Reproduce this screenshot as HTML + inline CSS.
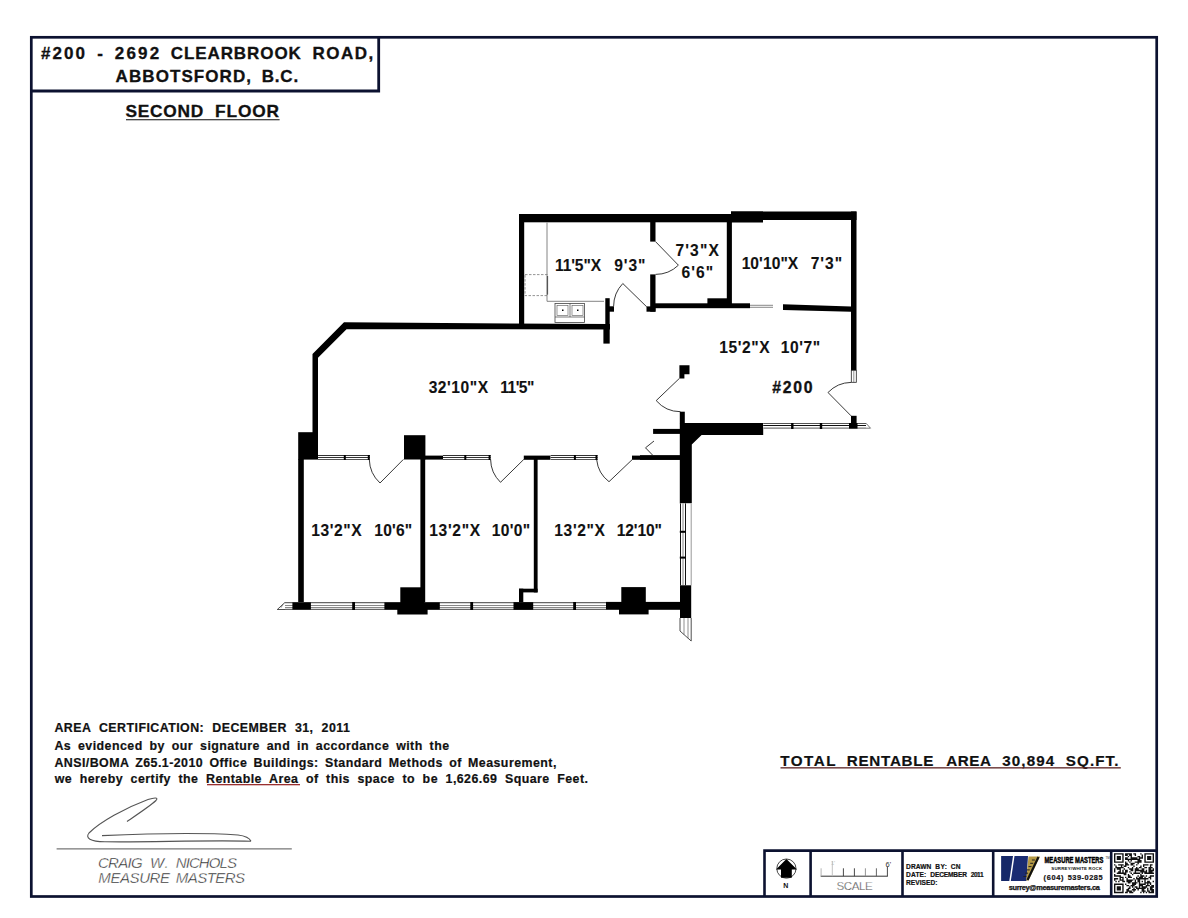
<!DOCTYPE html>
<html><head><meta charset="utf-8">
<style>
html,body{margin:0;padding:0;background:#fff;}
body{width:1188px;height:918px;overflow:hidden;position:relative;}
svg{position:absolute;left:0;top:0;}
text{font-family:"Liberation Sans",sans-serif;}
</style></head>
<body>
<svg width="1188" height="918" viewBox="0 0 1188 918">
<rect x="31.3" y="37.3" width="1125.4" height="859.2" fill="none" stroke="#0c1230" stroke-width="2.7"/>
<path d="M378.7 37 V91 H31" fill="none" stroke="#0c1230" stroke-width="2.8"/>
<text transform="translate(41.40 58.90) scale(1.05 1)" x="-0.28" y="0" font-size="16.2" font-weight="bold" font-style="normal" fill="#111" stroke="#111" stroke-width="0.3" letter-spacing="1.89" >#200</text>
<text transform="translate(97.90 58.90) scale(1.05 1)" x="-0.63" y="0" font-size="16.2" font-weight="bold" font-style="normal" fill="#111" stroke="#111" stroke-width="0.3" letter-spacing="0.00" >-</text>
<text transform="translate(115.30 58.90) scale(1.05 1)" x="-0.56" y="0" font-size="16.2" font-weight="bold" font-style="normal" fill="#111" stroke="#111" stroke-width="0.3" letter-spacing="2.10" >2692</text>
<text transform="translate(171.40 58.90) scale(1.05 1)" x="-0.66" y="0" font-size="16.2" font-weight="bold" font-style="normal" fill="#111" stroke="#111" stroke-width="0.3" letter-spacing="0.88" >CLEARBROOK</text>
<text transform="translate(313.60 58.90) scale(1.05 1)" x="-1.08" y="0" font-size="16.2" font-weight="bold" font-style="normal" fill="#111" stroke="#111" stroke-width="0.3" letter-spacing="1.40" >ROAD,</text>
<text transform="translate(116.00 81.70) scale(1.05 1)" x="-0.40" y="0" font-size="16.2" font-weight="bold" font-style="normal" fill="#111" stroke="#111" stroke-width="0.3" letter-spacing="1.03" >ABBOTSFORD,</text>
<text transform="translate(262.90 81.70) scale(1.05 1)" x="-1.08" y="0" font-size="16.2" font-weight="bold" font-style="normal" fill="#111" stroke="#111" stroke-width="0.3" letter-spacing="0.76" >B.C.</text>
<text transform="translate(126.00 117.20) scale(1.05 1)" x="-0.48" y="0" font-size="16.5" font-weight="bold" font-style="normal" fill="#111" stroke="#111" stroke-width="0.3" letter-spacing="0.72" >SECOND</text>
<text transform="translate(216.20 117.20) scale(1.05 1)" x="-1.10" y="0" font-size="16.5" font-weight="bold" font-style="normal" fill="#111" stroke="#111" stroke-width="0.3" letter-spacing="0.83" >FLOOR</text>
<rect x="126" y="119.1" width="153.6" height="1.2" fill="#333"/>
<text x="54.39" y="732.20" font-size="12.4" font-weight="bold" fill="#111" stroke="#111" stroke-width="0.2" letter-spacing="0.45" word-spacing="4.24">AREA CERTIFICATION: DECEMBER 31, 2011</text>
<text x="54.39" y="750.20" font-size="12.4" font-weight="bold" fill="#111" stroke="#111" stroke-width="0.2" letter-spacing="0.45" word-spacing="3.01">As evidenced by our signature and in accordance with the</text>
<text x="54.39" y="766.80" font-size="12.4" font-weight="bold" fill="#111" stroke="#111" stroke-width="0.2" letter-spacing="0.45" word-spacing="2.46">ANSI/BOMA Z65.1-2010 Office Buildings: Standard Methods of Measurement,</text>
<text x="54.74" y="783.20" font-size="12.4" font-weight="bold" fill="#111" stroke="#111" stroke-width="0.2" letter-spacing="0.45" word-spacing="3.67">we hereby certify the Rentable Area of this space to be 1,626.69 Square Feet.</text>
<rect x="207" y="784" width="93" height="1.3" fill="#9a3030"/>
<text transform="translate(780.30 765.60) scale(1.0 1)" x="-0.17" y="0" font-size="15.2" font-weight="bold" font-style="normal" fill="#111" stroke="#111" stroke-width="0.2" letter-spacing="1.52" >TOTAL</text>
<text transform="translate(847.70 765.60) scale(1.0 1)" x="-1.02" y="0" font-size="15.2" font-weight="bold" font-style="normal" fill="#111" stroke="#111" stroke-width="0.2" letter-spacing="0.75" >RENTABLE</text>
<text transform="translate(946.50 765.60) scale(1.0 1)" x="-0.38" y="0" font-size="15.2" font-weight="bold" font-style="normal" fill="#111" stroke="#111" stroke-width="0.2" letter-spacing="0.57" >AREA</text>
<text transform="translate(1002.60 765.60) scale(1.0 1)" x="-0.35" y="0" font-size="15.2" font-weight="bold" font-style="normal" fill="#111" stroke="#111" stroke-width="0.2" letter-spacing="1.09" >30,894</text>
<text transform="translate(1066.20 765.60) scale(1.0 1)" x="-0.44" y="0" font-size="15.2" font-weight="bold" font-style="normal" fill="#111" stroke="#111" stroke-width="0.2" letter-spacing="1.10" >SQ.FT.</text>
<rect x="780.5" y="767.2" width="340.3" height="1.3" fill="#5a2222"/>
<path d="M127,821.5 C138,814 150,806 156,800.5 C159,797 154,797.5 148,799.5 C125,808 100,822 89,833 C85,838 90,841.5 105,841.8 C150,842.5 200,840 251,841.2 M102,835.6 C140,834 200,832.5 238,835 C246,836 250,839 251,841.2" fill="none" stroke="#555" stroke-width="1.1"/>
<rect x="56.6" y="848.4" width="235.2" height="1" fill="#555"/>
<text transform="translate(98.80 868.20) scale(1.0 1)" x="-0.83" y="0" font-size="15" font-weight="normal" font-style="italic" fill="#222" letter-spacing="-0.73" stroke="#fff" stroke-width="0.4">CRAIG</text>
<text transform="translate(151.30 868.20) scale(1.0 1)" x="-1.30" y="0" font-size="15" font-weight="normal" font-style="italic" fill="#222" letter-spacing="0.91" stroke="#fff" stroke-width="0.4">W.</text>
<text transform="translate(176.20 868.20) scale(1.0 1)" x="-0.46" y="0" font-size="15" font-weight="normal" font-style="italic" fill="#222" letter-spacing="-0.91" stroke="#fff" stroke-width="0.4">NICHOLS</text>
<text transform="translate(98.80 883.00) scale(1.0 1)" x="-0.46" y="0" font-size="15" font-weight="normal" font-style="italic" fill="#222" letter-spacing="-0.43" stroke="#fff" stroke-width="0.4">MEASURE</text>
<text transform="translate(176.20 883.00) scale(1.0 1)" x="-0.46" y="0" font-size="15" font-weight="normal" font-style="italic" fill="#222" letter-spacing="-0.53" stroke="#fff" stroke-width="0.4">MASTERS</text>
<g fill="none" stroke="#0c1230" stroke-width="2.6"><path d="M1156.7 850.6 H764.5 V896.5"/><path d="M810.6 850.6 V896.5 M902.5 850.6 V896.5 M993.2 850.6 V896.5 M1111.2 850.6 V896.5"/></g>
<rect x="519" y="214" width="213.00" height="8.30" fill="#000"/>
<rect x="731" y="211.5" width="125.50" height="8.50" fill="#000"/>
<rect x="731" y="211.5" width="32.00" height="11.00" fill="#000"/>
<rect x="519" y="214" width="5.20" height="115.00" fill="#000"/>
<polygon points="344,322.3 610,324.1 610,329.4 346.5,329.3 318,357.8 318,456 312.5,456 312.5,354" fill="#000"/>
<rect x="605.3" y="298.2" width="4.40" height="26.80" fill="#000"/>
<rect x="603.4" y="324" width="6.30" height="19.60" fill="#000"/>
<rect x="609" y="306.3" width="5.00" height="5.40" fill="#000"/>
<rect x="650.2" y="222" width="5.30" height="19.60" fill="#000"/>
<rect x="650.2" y="274.4" width="5.30" height="37.30" fill="#000"/>
<rect x="646.5" y="306.4" width="9.00" height="5.30" fill="#000"/>
<rect x="655" y="303.3" width="95.00" height="4.90" fill="#000"/>
<rect x="707.4" y="298.3" width="22.80" height="5.70" fill="#000"/>
<rect x="726.8" y="214" width="5.10" height="90.00" fill="#000"/>
<path d="M750,305.3 H773 M750,307.3 H773" fill="none" stroke="#555" stroke-width="0.7"/>
<polygon points="783,304.3 851,306.6 851,311.8 783,309.9" fill="#000"/>
<rect x="851" y="211.5" width="5.50" height="158.80" fill="#000"/>
<rect x="851.3" y="370.3" width="5" height="12" fill="#fff" stroke="#222" stroke-width="0.8"/>
<path d="M853.8,370.3 V382.4" fill="none" stroke="#444" stroke-width="0.6"/>
<path d="M851,415.8 L828,392.5 A32.74,32.74 0 0 1 851,382.4" fill="none" stroke="#222" stroke-width="0.9"/>
<path d="M547,222.5 V301.3 H604" fill="none" stroke="#777" stroke-width="0.9"/>
<rect x="525" y="274.6" width="22.5" height="21" fill="none" stroke="#777" stroke-width="0.8" stroke-dasharray="2.5 1.5"/>
<path d="M547.5,276 V294.5" fill="none" stroke="#555" stroke-width="1.2"/>
<rect x="555" y="303.5" width="29.4" height="19" fill="none" stroke="#444" stroke-width="0.8"/>
<path d="M570,303.5 V317 M555,317 H584.4" fill="none" stroke="#444" stroke-width="0.7"/>
<rect x="557" y="305.5" width="11" height="10" fill="none" stroke="#555" stroke-width="0.6"/>
<rect x="572" y="305.5" width="11" height="10" fill="none" stroke="#555" stroke-width="0.6"/>
<rect x="562" y="309.5" width="1.50" height="1.50" fill="#000"/>
<rect x="577" y="309.5" width="1.50" height="1.50" fill="#000"/>
<path d="M655.5,241.6 L678.4,265.2 A32.88,32.88 0 0 1 655.5,274.4" fill="none" stroke="#222" stroke-width="0.9"/>
<path d="M646.7,306.8 L622.8,283.5 A33.38,33.38 0 0 0 613.6,306.4" fill="none" stroke="#222" stroke-width="0.9"/>
<polygon points="679.4,365.3 689.5,365.3 689.5,374.3 684.4,374.3 684.4,378.4 679.4,378.4" fill="#000"/>
<path d="M679.4,378.4 L656.2,400.6 A32.11,32.11 0 0 0 680.4,411.7" fill="none" stroke="#222" stroke-width="0.9"/>
<rect x="679.8" y="411.7" width="5.00" height="11.50" fill="#000"/>
<polygon points="679.8,423 763.2,423 763.2,435 701.6,435 691.8,444.5 691.8,503.4 679.8,503.4" fill="#000"/>
<rect x="653.1" y="428.9" width="26.90" height="5.00" fill="#000"/>
<path d="M654,441 L645.5,447.8 L652.5,455" fill="none" stroke="#222" stroke-width="0.9"/>
<rect x="640" y="455.2" width="40.00" height="4.60" fill="#000"/>
<rect x="763.2" y="423" width="102.80" height="6.00" fill="#fff"/>
<path d="M763.2,423.50H866" stroke="#555" stroke-width="1" fill="none"/>
<path d="M763.2,425.50H866" stroke="#111" stroke-width="1" fill="none"/>
<path d="M763.2,428.20H866" stroke="#777" stroke-width="1.2" fill="none"/>
<rect x="791.0999999999999" y="423" width="2.40" height="6.00" fill="#000"/>
<rect x="819.8" y="423" width="2.40" height="6.00" fill="#000"/>
<path d="M866,423.2 L870.5,428.2 H866" fill="none" stroke="#555" stroke-width="0.8"/>
<rect x="851" y="415.8" width="5.60" height="7.70" fill="#000"/>
<rect x="849" y="423" width="8.50" height="5.60" fill="#000"/>
<rect x="298.2" y="432.2" width="19.80" height="27.40" fill="#000"/>
<rect x="318" y="455" width="51.80" height="5.00" fill="#fff"/>
<path d="M318,455.50H369.8" stroke="#333" stroke-width="1" fill="none"/>
<path d="M318,457.50H369.8" stroke="#333" stroke-width="1" fill="none"/>
<path d="M318,459.50H369.8" stroke="#555" stroke-width="1" fill="none"/>
<rect x="343.8" y="455" width="2.00" height="5.00" fill="#000"/>
<rect x="367.8" y="455" width="2.00" height="5.00" fill="#000"/>
<path d="M403.4,459.4 L380,483 A33.23,33.23 0 0 1 369.3,459.4" fill="none" stroke="#222" stroke-width="0.9"/>
<rect x="404" y="435.2" width="21.40" height="24.30" fill="#000"/>
<rect x="425" y="455.6" width="18.00" height="4.00" fill="#000"/>
<rect x="443" y="455" width="47.60" height="5.00" fill="#fff"/>
<path d="M443,455.50H490.6" stroke="#333" stroke-width="1" fill="none"/>
<path d="M443,457.50H490.6" stroke="#333" stroke-width="1" fill="none"/>
<path d="M443,459.50H490.6" stroke="#555" stroke-width="1" fill="none"/>
<rect x="464.3" y="455" width="2.00" height="5.00" fill="#000"/>
<rect x="488.6" y="455" width="2.00" height="5.00" fill="#000"/>
<path d="M523.8,459.4 L500.5,482.3 A32.67,32.67 0 0 1 490.6,459.4" fill="none" stroke="#222" stroke-width="0.9"/>
<rect x="523.8" y="455.6" width="26.80" height="4.20" fill="#000"/>
<rect x="550.6" y="455" width="46.90" height="5.00" fill="#fff"/>
<path d="M550.6,455.50H597.5" stroke="#333" stroke-width="1" fill="none"/>
<path d="M550.6,457.50H597.5" stroke="#333" stroke-width="1" fill="none"/>
<path d="M550.6,459.50H597.5" stroke="#555" stroke-width="1" fill="none"/>
<rect x="573.9" y="455" width="2.00" height="5.00" fill="#000"/>
<rect x="595.5" y="455" width="2.00" height="5.00" fill="#000"/>
<path d="M632,459.8 L609,481.7 A31.76,31.76 0 0 1 596.7,459.8" fill="none" stroke="#222" stroke-width="0.9"/>
<rect x="632" y="455.6" width="48.00" height="4.20" fill="#000"/>
<rect x="298.2" y="459" width="5.60" height="145.50" fill="#000"/>
<rect x="420.4" y="459" width="4.80" height="145.50" fill="#000"/>
<rect x="533.8" y="459" width="3.80" height="133.40" fill="#000"/>
<rect x="519" y="588.7" width="18.60" height="3.70" fill="#000"/>
<rect x="519" y="588.7" width="4.30" height="15.30" fill="#000"/>
<rect x="679.8" y="503.4" width="12.20" height="81.90" fill="#fff"/>
<path d="M680.50,503.4V585.3" stroke="#111" stroke-width="1" fill="none"/>
<path d="M683.00,503.4V585.3" stroke="#777" stroke-width="0.9" fill="none"/>
<path d="M685.50,503.4V585.3" stroke="#111" stroke-width="1" fill="none"/>
<path d="M691.20,503.4V585.3" stroke="#999" stroke-width="1.0" fill="none"/>
<rect x="679.8" y="530.8" width="6.00" height="2.00" fill="#000"/>
<rect x="679.8" y="556.6" width="6.00" height="2.00" fill="#000"/>
<rect x="680" y="585.3" width="11.20" height="32.80" fill="#000"/>
<polygon points="680,618 691.2,618 691.2,641 680,631" fill="#fff"/>
<path d="M680,618 V631 L691.2,641 V618" fill="none" stroke="#222" stroke-width="0.8"/>
<path d="M684,618 V634.6 M688,618 V638.2" fill="none" stroke="#444" stroke-width="0.6"/>
<rect x="285" y="602" width="321.00" height="8.00" fill="#fff"/>
<path d="M285,602.60H606" stroke="#666" stroke-width="1.1" fill="none"/>
<path d="M285,605.50H606" stroke="#888" stroke-width="1" fill="none"/>
<path d="M285,607.50H606" stroke="#888" stroke-width="1" fill="none"/>
<path d="M285,609.40H606" stroke="#666" stroke-width="1.1" fill="none"/>
<rect x="352.20000000000005" y="602" width="2.80" height="8.00" fill="#000"/>
<rect x="470.3" y="602" width="2.80" height="8.00" fill="#000"/>
<rect x="573.2" y="602" width="2.80" height="8.00" fill="#000"/>
<path d="M285,602.4 L277.3,609.5 H285" fill="none" stroke="#222" stroke-width="0.8"/>
<path d="M283,604.2 L281,607.7" fill="none" stroke="#444" stroke-width="0.6"/>
<rect x="292.4" y="602.4" width="18.50" height="7.20" fill="#000"/>
<rect x="384.4" y="602.4" width="55.40" height="7.20" fill="#000"/>
<rect x="400.3" y="587.3" width="24.20" height="22.70" fill="#000"/>
<rect x="397.3" y="609" width="30.30" height="5.50" fill="#000"/>
<rect x="513.5" y="602.2" width="19.70" height="7.60" fill="#000"/>
<rect x="606" y="601.9" width="74.00" height="7.90" fill="#000"/>
<rect x="621.3" y="587.1" width="24.50" height="22.90" fill="#000"/>
<rect x="619" y="609" width="29.60" height="5.40" fill="#000"/>
<text transform="translate(555.90 271.30) scale(1.0 1)" x="-0.98" y="0" font-size="15.6" font-weight="bold" font-style="normal" fill="#111" stroke="#111" stroke-width="0.1" letter-spacing="-0.10" >11'5"X</text>
<text transform="translate(614.80 271.30) scale(1.0 1)" x="-0.54" y="0" font-size="15.6" font-weight="bold" font-style="normal" fill="#111" stroke="#111" stroke-width="0.1" letter-spacing="0.87" >9'3"</text>
<text transform="translate(676.10 255.60) scale(1.0 1)" x="-0.67" y="0" font-size="15.6" font-weight="bold" font-style="normal" fill="#111" stroke="#111" stroke-width="0.1" letter-spacing="1.14" >7'3"X</text>
<text transform="translate(682.10 277.50) scale(1.0 1)" x="-0.57" y="0" font-size="15.6" font-weight="bold" font-style="normal" fill="#111" stroke="#111" stroke-width="0.1" letter-spacing="1.08" >6'6"</text>
<text transform="translate(742.60 269.20) scale(1.0 1)" x="-0.98" y="0" font-size="15.6" font-weight="bold" font-style="normal" fill="#111" stroke="#111" stroke-width="0.1" letter-spacing="0.07" >10'10"X</text>
<text transform="translate(811.30 269.20) scale(1.0 1)" x="-0.67" y="0" font-size="15.6" font-weight="bold" font-style="normal" fill="#111" stroke="#111" stroke-width="0.1" letter-spacing="0.98" >7'3"</text>
<text transform="translate(429.00 393.10) scale(1.0 1)" x="-0.36" y="0" font-size="15.6" font-weight="bold" font-style="normal" fill="#111" stroke="#111" stroke-width="0.1" letter-spacing="0.56" >32'10"X</text>
<text transform="translate(501.30 393.10) scale(1.0 1)" x="-0.98" y="0" font-size="15.6" font-weight="bold" font-style="normal" fill="#111" stroke="#111" stroke-width="0.1" letter-spacing="-0.58" >11'5"</text>
<text transform="translate(720.10 352.70) scale(1.0 1)" x="-0.98" y="0" font-size="15.6" font-weight="bold" font-style="normal" fill="#111" stroke="#111" stroke-width="0.1" letter-spacing="0.62" >15'2"X</text>
<text transform="translate(781.70 352.70) scale(1.0 1)" x="-0.98" y="0" font-size="15.6" font-weight="bold" font-style="normal" fill="#111" stroke="#111" stroke-width="0.1" letter-spacing="0.57" >10'7"</text>
<text transform="translate(772.60 393.10) scale(1.0 1)" x="-0.27" y="0" font-size="15.8" font-weight="bold" font-style="normal" fill="#111" stroke="#111" stroke-width="0.35" letter-spacing="1.72" >#200</text>
<text transform="translate(312.10 536.00) scale(1.0 1)" x="-0.98" y="0" font-size="15.6" font-weight="bold" font-style="normal" fill="#111" stroke="#111" stroke-width="0.1" letter-spacing="0.62" >13'2"X</text>
<text transform="translate(375.30 536.00) scale(1.0 1)" x="-0.98" y="0" font-size="15.6" font-weight="bold" font-style="normal" fill="#111" stroke="#111" stroke-width="0.1" letter-spacing="0.17" >10'6"</text>
<text transform="translate(430.10 536.00) scale(1.0 1)" x="-0.98" y="0" font-size="15.6" font-weight="bold" font-style="normal" fill="#111" stroke="#111" stroke-width="0.1" letter-spacing="0.72" >13'2"X</text>
<text transform="translate(492.70 536.00) scale(1.0 1)" x="-0.98" y="0" font-size="15.6" font-weight="bold" font-style="normal" fill="#111" stroke="#111" stroke-width="0.1" letter-spacing="0.32" >10'0"</text>
<text transform="translate(555.30 536.00) scale(1.0 1)" x="-0.98" y="0" font-size="15.6" font-weight="bold" font-style="normal" fill="#111" stroke="#111" stroke-width="0.1" letter-spacing="0.62" >13'2"X</text>
<text transform="translate(617.80 536.00) scale(1.0 1)" x="-0.98" y="0" font-size="15.6" font-weight="bold" font-style="normal" fill="#111" stroke="#111" stroke-width="0.1" letter-spacing="-0.16" >12'10"</text>
<circle cx="786.4" cy="868.6" r="9.6" fill="none" stroke="#333" stroke-width="0.9"/>
<polygon points="786.4,859 797,869.6 791.8,869.6 791.8,877.8 781,877.8 781,869.6 776,869.6" fill="#000"/>
<text x="785.7" y="887.9" font-family="Liberation Serif" font-weight="bold" font-size="7" text-anchor="middle" fill="#111">N</text>
<path d="M820.7,876.2 H887.8" stroke="#333" stroke-width="1"/>
<path d="M821.1,868.3 V876.2" stroke="#aaa" stroke-width="0.9"/>
<path d="M832.3,861 V876.2" stroke="#bbb" stroke-width="0.9"/>
<path d="M843.4,868.3 V876.2" stroke="#333" stroke-width="0.9"/>
<path d="M854.4,868.3 V876.2" stroke="#333" stroke-width="0.9"/>
<path d="M865.4,868.3 V876.2" stroke="#888" stroke-width="0.9"/>
<path d="M876.4,868.3 V876.2" stroke="#555" stroke-width="0.9"/>
<path d="M887.4,867 V876.2" stroke="#333" stroke-width="0.9"/>
<text x="831" y="864.6" font-size="5.5" fill="#bbb">1'</text>
<text x="885.6" y="866.5" font-size="7.5" fill="#333">6'</text>
<text transform="translate(837.00 889.90) scale(1.0 1)" x="-0.53" y="0" font-size="11.6" font-weight="normal" font-style="normal" fill="#555" letter-spacing="-0.45" stroke="#fff" stroke-width="0.25">SCALE</text>
<text transform="translate(906.50 869.00) scale(1.0 1)" x="-0.44" y="0" font-size="6.6" font-weight="bold" font-style="normal" fill="#111" stroke="#111" stroke-width="0.2" letter-spacing="0.07" >DRAWN</text>
<text transform="translate(935.70 869.00) scale(1.0 1)" x="-0.44" y="0" font-size="6.6" font-weight="bold" font-style="normal" fill="#111" stroke="#111" stroke-width="0.2" letter-spacing="0.36" >BY:</text>
<text transform="translate(951.10 869.00) scale(1.0 1)" x="-0.27" y="0" font-size="6.6" font-weight="bold" font-style="normal" fill="#111" stroke="#111" stroke-width="0.2" letter-spacing="0.08" >CN</text>
<text transform="translate(906.50 877.00) scale(1.0 1)" x="-0.44" y="0" font-size="6.6" font-weight="bold" font-style="normal" fill="#111" stroke="#111" stroke-width="0.2" letter-spacing="0.15" >DATE:</text>
<text transform="translate(930.80 877.00) scale(1.0 1)" x="-0.44" y="0" font-size="6.6" font-weight="bold" font-style="normal" fill="#111" stroke="#111" stroke-width="0.2" letter-spacing="-0.17" >DECEMBER</text>
<text transform="translate(970.90 877.00) scale(1.0 1)" x="-0.23" y="0" font-size="6.6" font-weight="bold" font-style="normal" fill="#111" stroke="#111" stroke-width="0.2" letter-spacing="-0.46" >2011</text>
<text transform="translate(906.50 884.90) scale(1.0 1)" x="-0.44" y="0" font-size="6.6" font-weight="bold" font-style="normal" fill="#111" stroke="#111" stroke-width="0.2" letter-spacing="0.03" >REVISED:</text>
<polygon points="1001.1,856.1 1013,856.1 1009.3,880.9 1001.1,880.9" fill="#162868"/>
<polygon points="1014.5,856.1 1028,856.1 1026.5,880.9 1010.8,880.9" fill="#1a2c72"/>
<polygon points="1028.5,856.4 1040,856.4 1028.5,880.5 1026.2,880.5" fill="#b59a45"/>
<path d="M1038.5,857 L1027.5,880" stroke="#111" stroke-width="2.2"/>
<path d="M1034.9,860.0 h-3" stroke="#222" stroke-width="1"/>
<path d="M1033.2,863.3 h-3" stroke="#222" stroke-width="1"/>
<path d="M1031.5,866.6 h-3" stroke="#222" stroke-width="1"/>
<path d="M1029.8,869.9 h-3" stroke="#222" stroke-width="1"/>
<path d="M1028.1,873.2 h-3" stroke="#222" stroke-width="1"/>
<path d="M1026.4,876.5 h-3" stroke="#222" stroke-width="1"/>
<text transform="translate(1044.5 862.7) scale(0.78 1)" x="0" y="0" font-family="Liberation Serif" font-weight="bold" font-size="9.6" fill="#000" stroke="#000" stroke-width="0.5" textLength="75.5" lengthAdjust="spacingAndGlyphs">MEASURE MASTERS</text>
<text x="1105.5" y="858.5" font-size="3" fill="#333">TM</text>
<text x="1051.37" y="869.70" font-size="4.4" font-weight="bold" font-style="normal" fill="#111" letter-spacing="0.18" >SURREY/WHITE ROCK</text>
<text transform="translate(1043.90 880.30) scale(1.0 1)" x="-0.37" y="0" font-size="7.4" font-weight="bold" font-style="normal" fill="#111" stroke="#111" stroke-width="0.2" letter-spacing="0.64" >(604)</text>
<text transform="translate(1067.90 879.60) scale(1.0 1)" x="-0.23" y="0" font-size="7.4" font-weight="bold" font-style="normal" fill="#111" stroke="#111" stroke-width="0.2" letter-spacing="0.52" >539-0285</text>
<text transform="translate(1009.00 889.60) scale(1.0 1)" x="-0.26" y="0" font-size="7.4" font-weight="bold" font-style="normal" fill="#111" stroke="#111" stroke-width="0.25" letter-spacing="-0.34" >surrey@measuremasters.ca</text>
<path d="M1114.00,853.20h9.66v1.38h-9.66zM1125.03,853.20h6.90v1.38h-6.90zM1133.31,853.20h2.76v1.38h-2.76zM1140.21,853.20h1.38v1.38h-1.38zM1144.34,853.20h9.66v1.38h-9.66zM1114.00,854.58h1.38v1.38h-1.38zM1122.28,854.58h1.38v1.38h-1.38zM1125.03,854.58h2.76v1.38h-2.76zM1129.17,854.58h2.76v1.38h-2.76zM1134.69,854.58h1.38v1.38h-1.38zM1141.59,854.58h1.38v1.38h-1.38zM1144.34,854.58h1.38v1.38h-1.38zM1152.62,854.58h1.38v1.38h-1.38zM1114.00,855.96h1.38v1.38h-1.38zM1116.76,855.96h4.14v1.38h-4.14zM1122.28,855.96h1.38v1.38h-1.38zM1127.79,855.96h1.38v1.38h-1.38zM1130.55,855.96h1.38v1.38h-1.38zM1137.45,855.96h2.76v1.38h-2.76zM1141.59,855.96h1.38v1.38h-1.38zM1144.34,855.96h1.38v1.38h-1.38zM1147.10,855.96h4.14v1.38h-4.14zM1152.62,855.96h1.38v1.38h-1.38zM1114.00,857.34h1.38v1.38h-1.38zM1116.76,857.34h4.14v1.38h-4.14zM1122.28,857.34h1.38v1.38h-1.38zM1125.03,857.34h2.76v1.38h-2.76zM1130.55,857.34h6.90v1.38h-6.90zM1138.83,857.34h4.14v1.38h-4.14zM1144.34,857.34h1.38v1.38h-1.38zM1147.10,857.34h4.14v1.38h-4.14zM1152.62,857.34h1.38v1.38h-1.38zM1114.00,858.72h1.38v1.38h-1.38zM1116.76,858.72h4.14v1.38h-4.14zM1122.28,858.72h1.38v1.38h-1.38zM1125.03,858.72h15.17v1.38h-15.17zM1144.34,858.72h1.38v1.38h-1.38zM1147.10,858.72h4.14v1.38h-4.14zM1152.62,858.72h1.38v1.38h-1.38zM1114.00,860.10h1.38v1.38h-1.38zM1122.28,860.10h1.38v1.38h-1.38zM1127.79,860.10h1.38v1.38h-1.38zM1130.55,860.10h1.38v1.38h-1.38zM1137.45,860.10h4.14v1.38h-4.14zM1144.34,860.10h1.38v1.38h-1.38zM1152.62,860.10h1.38v1.38h-1.38zM1114.00,861.48h9.66v1.38h-9.66zM1125.03,861.48h1.38v1.38h-1.38zM1129.17,861.48h1.38v1.38h-1.38zM1134.69,861.48h6.90v1.38h-6.90zM1144.34,861.48h9.66v1.38h-9.66zM1125.03,862.86h2.76v1.38h-2.76zM1130.55,862.86h4.14v1.38h-4.14zM1137.45,862.86h1.38v1.38h-1.38zM1114.00,864.23h1.38v1.38h-1.38zM1118.14,864.23h5.52v1.38h-5.52zM1125.03,864.23h4.14v1.38h-4.14zM1130.55,864.23h2.76v1.38h-2.76zM1136.07,864.23h1.38v1.38h-1.38zM1142.97,864.23h5.52v1.38h-5.52zM1149.86,864.23h2.76v1.38h-2.76zM1115.38,865.61h1.38v1.38h-1.38zM1120.90,865.61h1.38v1.38h-1.38zM1123.66,865.61h2.76v1.38h-2.76zM1133.31,865.61h1.38v1.38h-1.38zM1140.21,865.61h1.38v1.38h-1.38zM1142.97,865.61h1.38v1.38h-1.38zM1149.86,865.61h1.38v1.38h-1.38zM1115.38,866.99h8.28v1.38h-8.28zM1127.79,866.99h1.38v1.38h-1.38zM1131.93,866.99h1.38v1.38h-1.38zM1136.07,866.99h1.38v1.38h-1.38zM1138.83,866.99h2.76v1.38h-2.76zM1144.34,866.99h2.76v1.38h-2.76zM1148.48,866.99h4.14v1.38h-4.14zM1114.00,868.37h1.38v1.38h-1.38zM1116.76,868.37h4.14v1.38h-4.14zM1123.66,868.37h1.38v1.38h-1.38zM1129.17,868.37h4.14v1.38h-4.14zM1134.69,868.37h4.14v1.38h-4.14zM1141.59,868.37h2.76v1.38h-2.76zM1148.48,868.37h2.76v1.38h-2.76zM1152.62,868.37h1.38v1.38h-1.38zM1114.00,869.75h1.38v1.38h-1.38zM1119.52,869.75h1.38v1.38h-1.38zM1122.28,869.75h1.38v1.38h-1.38zM1125.03,869.75h2.76v1.38h-2.76zM1130.55,869.75h2.76v1.38h-2.76zM1134.69,869.75h9.66v1.38h-9.66zM1145.72,869.75h1.38v1.38h-1.38zM1148.48,869.75h5.52v1.38h-5.52zM1114.00,871.13h1.38v1.38h-1.38zM1118.14,871.13h2.76v1.38h-2.76zM1122.28,871.13h1.38v1.38h-1.38zM1125.03,871.13h2.76v1.38h-2.76zM1129.17,871.13h1.38v1.38h-1.38zM1134.69,871.13h1.38v1.38h-1.38zM1140.21,871.13h6.90v1.38h-6.90zM1148.48,871.13h4.14v1.38h-4.14zM1116.76,872.51h9.66v1.38h-9.66zM1130.55,872.51h1.38v1.38h-1.38zM1133.31,872.51h6.90v1.38h-6.90zM1141.59,872.51h1.38v1.38h-1.38zM1144.34,872.51h9.66v1.38h-9.66zM1114.00,873.89h1.38v1.38h-1.38zM1123.66,873.89h2.76v1.38h-2.76zM1127.79,873.89h1.38v1.38h-1.38zM1131.93,873.89h1.38v1.38h-1.38zM1140.21,873.89h1.38v1.38h-1.38zM1114.00,875.27h6.90v1.38h-6.90zM1127.79,875.27h2.76v1.38h-2.76zM1137.45,875.27h1.38v1.38h-1.38zM1140.21,875.27h4.14v1.38h-4.14zM1145.72,875.27h1.38v1.38h-1.38zM1149.86,875.27h4.14v1.38h-4.14zM1119.52,876.65h4.14v1.38h-4.14zM1125.03,876.65h1.38v1.38h-1.38zM1127.79,876.65h4.14v1.38h-4.14zM1136.07,876.65h1.38v1.38h-1.38zM1138.83,876.65h4.14v1.38h-4.14zM1144.34,876.65h1.38v1.38h-1.38zM1148.48,876.65h2.76v1.38h-2.76zM1114.00,878.03h4.14v1.38h-4.14zM1119.52,878.03h1.38v1.38h-1.38zM1122.28,878.03h1.38v1.38h-1.38zM1126.41,878.03h1.38v1.38h-1.38zM1133.31,878.03h1.38v1.38h-1.38zM1136.07,878.03h12.41v1.38h-12.41zM1149.86,878.03h1.38v1.38h-1.38zM1114.00,879.41h1.38v1.38h-1.38zM1119.52,879.41h4.14v1.38h-4.14zM1126.41,879.41h6.90v1.38h-6.90zM1134.69,879.41h1.38v1.38h-1.38zM1137.45,879.41h2.76v1.38h-2.76zM1144.34,879.41h1.38v1.38h-1.38zM1115.38,880.79h1.38v1.38h-1.38zM1118.14,880.79h1.38v1.38h-1.38zM1122.28,880.79h2.76v1.38h-2.76zM1126.41,880.79h5.52v1.38h-5.52zM1134.69,880.79h1.38v1.38h-1.38zM1137.45,880.79h2.76v1.38h-2.76zM1141.59,880.79h1.38v1.38h-1.38zM1144.34,880.79h1.38v1.38h-1.38zM1147.10,880.79h2.76v1.38h-2.76zM1152.62,880.79h1.38v1.38h-1.38zM1127.79,882.17h2.76v1.38h-2.76zM1131.93,882.17h5.52v1.38h-5.52zM1138.83,882.17h1.38v1.38h-1.38zM1144.34,882.17h6.90v1.38h-6.90zM1114.00,883.54h9.66v1.38h-9.66zM1125.03,883.54h1.38v1.38h-1.38zM1131.93,883.54h4.14v1.38h-4.14zM1138.83,883.54h6.90v1.38h-6.90zM1147.10,883.54h1.38v1.38h-1.38zM1149.86,883.54h1.38v1.38h-1.38zM1114.00,884.92h1.38v1.38h-1.38zM1122.28,884.92h1.38v1.38h-1.38zM1126.41,884.92h2.76v1.38h-2.76zM1130.55,884.92h4.14v1.38h-4.14zM1138.83,884.92h4.14v1.38h-4.14zM1145.72,884.92h4.14v1.38h-4.14zM1151.24,884.92h2.76v1.38h-2.76zM1114.00,886.30h1.38v1.38h-1.38zM1116.76,886.30h4.14v1.38h-4.14zM1122.28,886.30h1.38v1.38h-1.38zM1129.17,886.30h1.38v1.38h-1.38zM1131.93,886.30h1.38v1.38h-1.38zM1134.69,886.30h2.76v1.38h-2.76zM1138.83,886.30h1.38v1.38h-1.38zM1141.59,886.30h5.52v1.38h-5.52zM1149.86,886.30h4.14v1.38h-4.14zM1114.00,887.68h1.38v1.38h-1.38zM1116.76,887.68h4.14v1.38h-4.14zM1122.28,887.68h1.38v1.38h-1.38zM1127.79,887.68h2.76v1.38h-2.76zM1133.31,887.68h1.38v1.38h-1.38zM1136.07,887.68h9.66v1.38h-9.66zM1147.10,887.68h1.38v1.38h-1.38zM1149.86,887.68h2.76v1.38h-2.76zM1114.00,889.06h1.38v1.38h-1.38zM1116.76,889.06h4.14v1.38h-4.14zM1122.28,889.06h1.38v1.38h-1.38zM1126.41,889.06h2.76v1.38h-2.76zM1131.93,889.06h4.14v1.38h-4.14zM1137.45,889.06h1.38v1.38h-1.38zM1141.59,889.06h2.76v1.38h-2.76zM1147.10,889.06h1.38v1.38h-1.38zM1149.86,889.06h4.14v1.38h-4.14zM1114.00,890.44h1.38v1.38h-1.38zM1122.28,890.44h1.38v1.38h-1.38zM1126.41,890.44h5.52v1.38h-5.52zM1133.31,890.44h1.38v1.38h-1.38zM1141.59,890.44h4.14v1.38h-4.14zM1147.10,890.44h2.76v1.38h-2.76zM1151.24,890.44h2.76v1.38h-2.76zM1114.00,891.82h9.66v1.38h-9.66zM1125.03,891.82h2.76v1.38h-2.76zM1129.17,891.82h4.14v1.38h-4.14zM1140.21,891.82h1.38v1.38h-1.38zM1142.97,891.82h1.38v1.38h-1.38zM1145.72,891.82h1.38v1.38h-1.38zM1148.48,891.82h5.52v1.38h-5.52z" fill="#111"/>
</svg></body></html>
